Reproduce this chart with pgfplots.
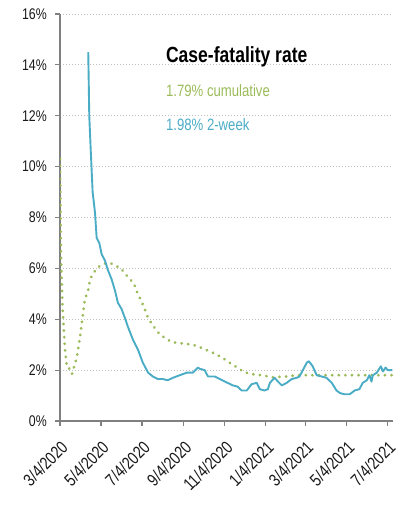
\documentclass[border=0pt]{standalone}
\usepackage{pgfplots}
\pgfplotsset{compat=1.18}
\usepackage{fontspec}
\setmainfont[FakeStretch=0.8]{Liberation Sans}
\definecolor{cfgreen}{RGB}{155,187,89}
\definecolor{cfblue}{RGB}{75,172,198}
\definecolor{axgray}{RGB}{128,128,128}
\definecolor{gridgray}{RGB}{190,190,190}
\begin{document}
\begin{tikzpicture}
\begin{axis}[
  at={(0,0)}, anchor=south west,
  scale only axis, width=333bp, height=407bp,
  xmin=0, xmax=495, ymin=0, ymax=16,
  axis x line*=bottom, axis y line*=left,
  x axis line style={-, axgray, line width=1.5bp},
  y axis line style={-, axgray, line width=1.5bp},
  tick align=outside, major tick length=5bp,
  tick style={axgray, line width=1.2bp},
  xtick={0,61,122,184,245,306,365,426,487},
  xticklabels={3/4/2020,5/4/2020,7/4/2020,9/4/2020,11/4/2020,1/4/2021,3/4/2021,5/4/2021,7/4/2021},
  ytick={0,2,4,6,8,10,12,14,16},
  yticklabels={0\%,2\%,4\%,6\%,8\%,10\%,12\%,14\%,16\%},
  ticklabel style={text=black!90},
  y tick label style={font=\fontsize{15.5}{16}\selectfont, inner sep=2pt},
  yticklabel shift=6bp,
  x tick label style={font=\fontsize{17.5}{18}\selectfont, rotate=45, anchor=north east, inner sep=1pt},
  xticklabel shift=12bp,
  ymajorgrids,
  major grid style={gridgray, line width=0.9bp, dash pattern=on 1bp off 2bp},
  /pgf/number format/assume math mode=true,
]
\addplot[color=cfgreen, line width=3bp, dash pattern=on 0.1bp off 6.5bp, line cap=round] table {
x y
0 10.3
1.5 6.5
3.7 4.5
7.4 2.8
10.4 2.1
14.8 2.05
17.8 1.85
25 2.5
29.7 3.3
32.7 3.9
37 4.8
41.6 5.1
44.5 5.55
49 5.8
55 6.0
59.4 6.1
68 6.2
75.7 6.2
83 6.1
90.6 6.0
98 5.75
110 5.4
114 5.1
122 4.65
126 4.4
131 4.05
137 3.8
142.5 3.6
148.5 3.4
157 3.25
166 3.1
181 3.05
197.5 3.0
208 2.9
226 2.7
240.5 2.5
249 2.35
257 2.2
264 2.1
272 1.95
282 1.85
300 1.8
316 1.72
337 1.75
352 1.8
371 1.8
494 1.8
};
\addplot[color=cfblue, line width=1.9bp, line join=round] table {
x y
42 14.5
43.5 12.0
45.6 10.7
48.5 9.0
52 8.2
54.5 7.2
58.4 7.0
62 6.55
67 6.3
71 5.95
77 5.55
82 5.1
86 4.65
91.6 4.4
96.5 4.05
101 3.7
108.4 3.2
116 2.8
123 2.3
131 1.9
138 1.75
145.5 1.65
153 1.65
160 1.6
168 1.7
178 1.8
188.6 1.9
197.5 1.9
205 2.1
208 2.05
215 2.0
220 1.75
230 1.75
237.6 1.65
249 1.5
257 1.4
264 1.35
270 1.2
277.6 1.2
285 1.45
292.5 1.5
297 1.25
304 1.2
309 1.25
312 1.5
319 1.7
324 1.55
329.6 1.4
337 1.5
344.5 1.65
352 1.7
356 1.75
361 2.0
367 2.3
370 2.35
375.6 2.15
381.6 1.8
389 1.75
396 1.7
404 1.5
411 1.2
416 1.1
423 1.05
430.6 1.05
438 1.2
445 1.25
450 1.5
456 1.6
460 1.8
463 1.55
465 1.8
471 1.9
477 2.15
480 1.95
484 2.1
487 2.0
494 2.0
};
\node[anchor=base west, inner sep=0pt, font=\fontsize{22}{24}\selectfont\bfseries] at (axis cs:157.4,14.09) {Case-fatality rate};
\node[anchor=base west, inner sep=0pt, font=\fontsize{16.5}{18}\selectfont, text=cfgreen] at (axis cs:157.4,12.77) {1.79\% cumulative};
\node[anchor=base west, inner sep=0pt, font=\fontsize{16.5}{18}\selectfont, text=cfblue] at (axis cs:157.4,11.42) {1.98\% 2-week};
\end{axis}
\pgfresetboundingbox
\path[use as bounding box] (-60bp,-87bp) rectangle (341bp,421bp);
\end{tikzpicture}
\end{document}
